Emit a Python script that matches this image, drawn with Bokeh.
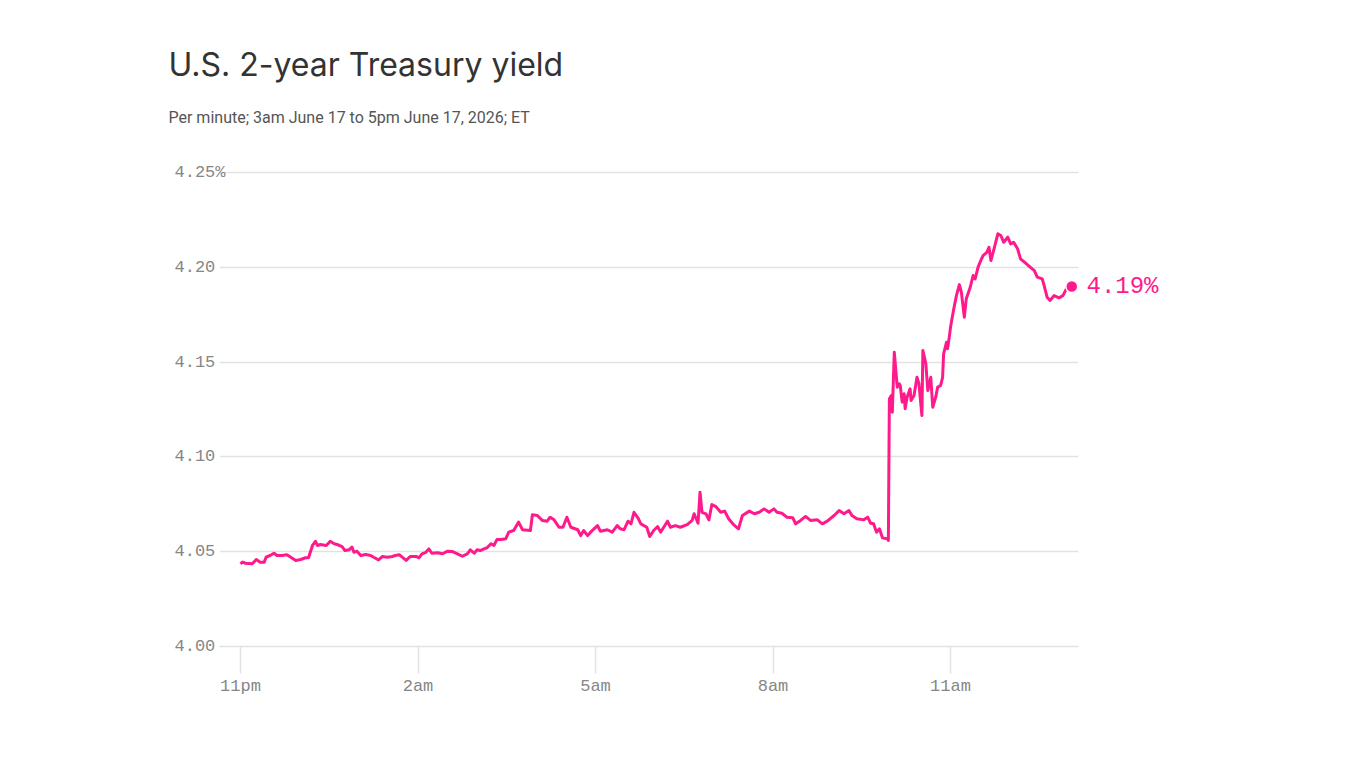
from bokeh.plotting import figure
from bokeh.models import Range1d, FixedTicker, LinearAxis, Title, ColumnDataSource
from bokeh.embed import file_html
from bokeh.resources import INLINE

# minutes after 11pm
minutes = [
    0, 2, 5, 12, 16, 20, 24, 26, 30, 34,
    37, 42, 47, 51, 56, 61, 66, 69, 73, 76,
    78, 81, 87, 91, 95, 98, 103, 106, 110, 113,
    115, 118, 122, 127, 132, 135, 140, 144, 149, 154,
    157, 161, 164, 168, 172, 178, 181, 184, 188, 191,
    194, 200, 205, 210, 215, 220, 225, 230, 233, 237,
    240, 243, 247, 250, 254, 257, 260, 264, 269, 272,
    277, 282, 286, 294, 296, 301, 306, 311, 314, 318,
    323, 327, 331, 335, 342, 345, 348, 352, 355, 362,
    365, 372, 377, 382, 385, 389, 393, 396, 399, 403,
    406, 412, 415, 419, 423, 426, 433, 436, 441, 446,
    453, 458, 460, 464, 466, 468, 472, 475, 478, 482,
    487, 491, 495, 500, 505, 509, 516, 521, 526, 531,
    536, 541, 544, 549, 554, 560, 563, 568, 573, 578,
    585, 590, 595, 602, 607, 612, 617, 620, 625, 632,
    636, 639, 642, 645, 648, 651, 656, 657, 658, 660,
    661, 663, 666, 668, 669, 671, 673, 674, 676, 679,
    680, 683, 686, 688, 691, 692, 695, 697, 700, 702,
    705, 707, 710, 712, 713, 716, 717, 719, 720, 723,
    726, 729, 731, 734, 736, 740, 743, 745, 748, 750,
    753, 757, 759, 761, 765, 768, 771, 774, 778, 781,
    784, 788, 791, 795, 799, 805, 808, 813, 815, 818,
    821, 825, 830, 834, 838, 843,
]

yields = [
    4.0436, 4.0445, 4.0439, 4.0436, 4.0459, 4.0445, 4.0445, 4.0471, 4.0480, 4.0492,
    4.0480, 4.0480, 4.0484, 4.0471, 4.0454, 4.0459, 4.0468, 4.0468, 4.0533, 4.0555,
    4.0533, 4.0538, 4.0533, 4.0555, 4.0542, 4.0538, 4.0527, 4.0506, 4.0510, 4.0524,
    4.0497, 4.0503, 4.0480, 4.0485, 4.0480, 4.0471, 4.0457, 4.0475, 4.0471, 4.0475,
    4.0480, 4.0484, 4.0471, 4.0454, 4.0475, 4.0475, 4.0468, 4.0489, 4.0497, 4.0515,
    4.0492, 4.0494, 4.0489, 4.0503, 4.0501, 4.0489, 4.0476, 4.0489, 4.0510, 4.0492,
    4.0510, 4.0506, 4.0515, 4.0521, 4.0542, 4.0533, 4.0564, 4.0564, 4.0568, 4.0603,
    4.0612, 4.0656, 4.0616, 4.0612, 4.0695, 4.0691, 4.0665, 4.0661, 4.0682, 4.0668,
    4.0629, 4.0629, 4.0682, 4.0629, 4.0616, 4.0585, 4.0612, 4.0585, 4.0603, 4.0638,
    4.0608, 4.0616, 4.0603, 4.0638, 4.0621, 4.0616, 4.0661, 4.0647, 4.0708, 4.0679,
    4.0647, 4.0629, 4.0580, 4.0612, 4.0633, 4.0603, 4.0661, 4.0629, 4.0638, 4.0629,
    4.0643, 4.0665, 4.0700, 4.0650, 4.0814, 4.0708, 4.0700, 4.0668, 4.0749, 4.0738,
    4.0708, 4.0714, 4.0674, 4.0643, 4.0621, 4.0691, 4.0714, 4.0700, 4.0708, 4.0726,
    4.0708, 4.0726, 4.0708, 4.0703, 4.0682, 4.0679, 4.0647, 4.0665, 4.0686, 4.0665,
    4.0668, 4.0647, 4.0661, 4.0691, 4.0717, 4.0700, 4.0717, 4.0691, 4.0674, 4.0668,
    4.0682, 4.0650, 4.0647, 4.0603, 4.0621, 4.0573, 4.0568, 4.0559, 4.1306, 4.1324,
    4.1236, 4.1552, 4.1368, 4.1386, 4.1377, 4.1289, 4.1333, 4.1254, 4.1315, 4.1359,
    4.1297, 4.1324, 4.1420, 4.1386, 4.1218, 4.1561, 4.1491, 4.1350, 4.1420, 4.1262,
    4.1315, 4.1368, 4.1377, 4.1420, 4.1544, 4.1605, 4.1570, 4.1640, 4.1684, 4.1772,
    4.1851, 4.1909, 4.1869, 4.1737, 4.1834, 4.1895, 4.1957, 4.1939, 4.2001, 4.2027,
    4.2062, 4.2080, 4.2106, 4.2036, 4.2115, 4.2177, 4.2168, 4.2132, 4.2159, 4.2124,
    4.2132, 4.2098, 4.2045, 4.2027, 4.2009, 4.1983, 4.1948, 4.1939, 4.1904, 4.1842,
    4.1825, 4.1851, 4.1839, 4.1851, 4.1892, 4.1899,
]

x_ticks = [0, 180, 360, 540, 720]
x_tick_labels = ["11pm", "2am", "5am", "8am", "11am"]
y_ticks = [4.00, 4.05, 4.10, 4.15, 4.20, 4.25]
y_tick_labels = ["4.00", "4.05", "4.10", "4.15", "4.20", "4.25%"]

title_text = "U.S. 2-year Treasury yield"
subtitle_text = "Per minute; 3am June 17 to 5pm June 17, 2026; ET"

PINK = "#ff1a8c"
GRID = "#e2e2e2"
TICK_TXT = "#868686"
MONO = "Liberation Mono"

assert len(minutes) == len(yields)

p = figure(width=1366, height=768, output_backend="svg", toolbar_location=None,
           x_range=Range1d(-21.3, 849.8), y_range=Range1d(4.0, 4.2553),
           x_axis_location=None, y_axis_location=None,
           min_border_left=219, min_border_right=288, min_border_top=162,
           min_border_bottom=122, title=None)
p.outline_line_color = None
p.background_fill_color = "white"
p.border_fill_color = "white"

p.xgrid.visible = False
p.ygrid.ticker = FixedTicker(ticks=y_ticks)
p.ygrid.grid_line_color = GRID
p.ygrid.grid_line_width = 1.5

# bottom time axis
xa = LinearAxis(ticker=FixedTicker(ticks=x_ticks),
                major_label_overrides={t: l for t, l in zip(x_ticks, x_tick_labels)})
xa.axis_line_color = GRID
xa.axis_line_width = 1.5
xa.major_tick_line_color = GRID
xa.major_tick_line_width = 1.5
xa.major_tick_in = 0
xa.major_tick_out = 27
xa.minor_tick_line_color = None
xa.major_label_text_font = MONO
xa.major_label_text_font_size = "17px"
xa.major_label_text_color = TICK_TXT
xa.major_label_standoff = 3
p.add_layout(xa, "below")

# left yield axis; labels padded so they line up on the left like the original
width = max(len(s) for s in y_tick_labels)
ya = LinearAxis(ticker=FixedTicker(ticks=y_ticks),
                major_label_overrides={v: s + "\u00a0" * (width - len(s))
                                       for v, s in zip(y_ticks, y_tick_labels)})
ya.axis_line_color = None
ya.major_tick_line_color = None
ya.minor_tick_line_color = None
ya.major_label_text_font = MONO
ya.major_label_text_font_size = "17px"
ya.major_label_text_color = TICK_TXT
ya.major_label_standoff = -12
p.add_layout(ya, "left")

# right axis carrying the end-value label
ra = LinearAxis(ticker=FixedTicker(ticks=[yields[-1]]),
                major_label_overrides={yields[-1]: f"{yields[-1]:.2f}%"})
ra.axis_line_color = None
ra.major_tick_line_color = None
ra.minor_tick_line_color = None
ra.major_label_text_font = MONO
ra.major_label_text_font_size = "24px"
ra.major_label_text_color = PINK
ra.major_label_standoff = 2
p.add_layout(ra, "right")

src = ColumnDataSource(dict(x=minutes, y=yields))
p.line("x", "y", source=src, line_color=PINK, line_width=3, line_join="round")
p.scatter([minutes[-1]], [yields[-1]], size=12, fill_color=PINK,
          line_color="white", line_width=1.5)

p.add_layout(Title(text=subtitle_text, text_font="Roboto", text_font_size="16px",
                   text_font_style="normal", text_color="#555555",
                   align="left", offset=-51, standoff=71), "above")
p.add_layout(Title(text=title_text, text_font="Inter", text_font_size="32px",
                   text_font_style="normal", text_color="#333333",
                   align="left", offset=-51, standoff=-27), "above")

open("out.html", "w").write(file_html(p, INLINE))
